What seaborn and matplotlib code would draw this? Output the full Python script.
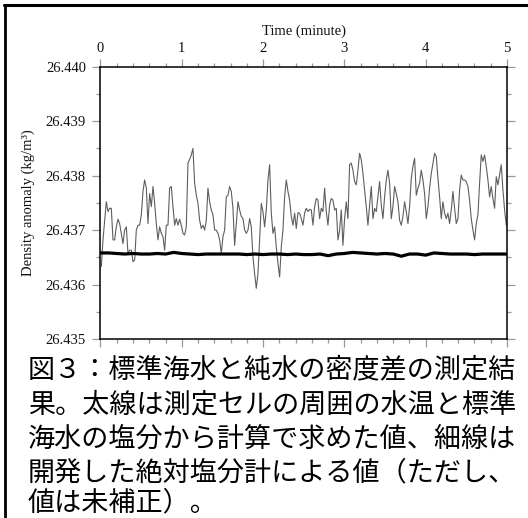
import numpy as np
import pandas as pd
import matplotlib
matplotlib.use("Agg")
import matplotlib.pyplot as plt
import seaborn as sns
from matplotlib.ticker import MultipleLocator, FormatStrFormatter
from matplotlib.lines import Line2D

# ---------------- data ----------------
# thin line: developed absolute salinometer (sampled every ~0.0205 min)
thin_values = [
    26.43633, 26.43682, 26.43718, 26.43752, 26.43734, 26.43740, 26.43740, 26.43682, 26.43682, 26.43706,
    26.43720, 26.43712, 26.43694, 26.43675, 26.43700, 26.43706, 26.43657, 26.43663, 26.43663, 26.43642,
    26.43645, 26.43700, 26.43709, 26.43709, 26.43728, 26.43771, 26.43792, 26.43777, 26.43712, 26.43767,
    26.43743, 26.43780, 26.43749, 26.43712, 26.43682, 26.43706, 26.43694, 26.43688, 26.43663, 26.43709,
    26.43709, 26.43777, 26.43780, 26.43743, 26.43709, 26.43721, 26.43709, 26.43720, 26.43709, 26.43694,
    26.43691, 26.43706, 26.43823, 26.43830, 26.43838, 26.43850, 26.43786, 26.43764, 26.43749, 26.43718,
    26.43703, 26.43709, 26.43700, 26.43718, 26.43777, 26.43752, 26.43737, 26.43728, 26.43700, 26.43700,
    26.43694, 26.43682, 26.43657, 26.43688, 26.43700, 26.43761, 26.43764, 26.43780, 26.43771, 26.43740,
    26.43672, 26.43712, 26.43752, 26.43737, 26.43725, 26.43721, 26.43700, 26.43694, 26.43700, 26.43721,
    26.43706, 26.43651, 26.43620, 26.43593, 26.43620, 26.43682, 26.43749, 26.43734, 26.43706, 26.43737,
    26.43792, 26.43820, 26.43731, 26.43694, 26.43706, 26.43669, 26.43639, 26.43614, 26.43669, 26.43700,
    26.43761, 26.43792, 26.43771, 26.43755, 26.43725, 26.43709, 26.43731, 26.43703, 26.43732, 26.43731,
    26.43721, 26.43709,
    26.43731, 26.43740, 26.43734, 26.43738, 26.43737, 26.43709, 26.43743, 26.43758, 26.43755, 26.43721,
    26.43740, 26.43734, 26.43777, 26.43734, 26.43709, 26.43746, 26.43758, 26.43755, 26.43737, 26.43740,
    26.43682, 26.43700, 26.43737, 26.43672, 26.43721, 26.43752, 26.43721, 26.43820, 26.43823, 26.43810,
    26.43789, 26.43783, 26.43810, 26.43841, 26.43829, 26.43804, 26.43774, 26.43743, 26.43709, 26.43746,
    26.43780, 26.43721, 26.43740, 26.43734, 26.43761, 26.43789, 26.43746, 26.43721, 26.43761, 26.43792,
    26.43810, 26.43786, 26.43721, 26.43743, 26.43780, 26.43767, 26.43752, 26.43718, 26.43709, 26.43725,
    26.43752, 26.43734, 26.43712, 26.43743, 26.43795, 26.43817, 26.43832, 26.43764, 26.43777, 26.43786,
    26.43810, 26.43792, 26.43767, 26.43721, 26.43743, 26.43777, 26.43804, 26.43823, 26.43841, 26.43835,
    26.43795, 26.43761, 26.43721, 26.43752, 26.43731, 26.43721, 26.43731, 26.43712, 26.43737, 26.43771,
    26.43740, 26.43712, 26.43721, 26.43774, 26.43801, 26.43792, 26.43792, 26.43789, 26.43780, 26.43755,
    26.43721, 26.43700, 26.43682, 26.43712, 26.43728, 26.43786, 26.43838, 26.43826, 26.43838, 26.43817,
    26.43792, 26.43761, 26.43780, 26.43758, 26.43740, 26.43798, 26.43783, 26.43801, 26.43820, 26.43774,
    26.43737, 26.43709,
]
thin_time = np.linspace(0.0103, 4.991, len(thin_values))

# thick line: computed from cell temperature and standard seawater salinity
thick_time = np.linspace(0.0, 5.0, 51)
thick_values = [
    26.43658, 26.43658, 26.43657, 26.43656, 26.43657, 26.43656, 26.43656, 26.43657, 26.43656, 26.43659,
    26.43657, 26.43656, 26.43655, 26.43656, 26.43656, 26.43656, 26.43656, 26.43656, 26.43655, 26.43656,
    26.43655, 26.43656, 26.43656, 26.43655, 26.43656, 26.43655, 26.43655, 26.43656, 26.43653, 26.43656,
    26.43657, 26.43659, 26.43658, 26.43657, 26.43656, 26.43657, 26.43656, 26.43652, 26.43656, 26.43656,
    26.43654, 26.43658, 26.43657, 26.43656, 26.43656, 26.43656, 26.43655, 26.43656, 26.43656, 26.43656,
    26.43656,
]

x_ticks = [0, 1, 2, 3, 4, 5]
y_ticks = [26.435, 26.436, 26.437, 26.438, 26.439, 26.440]

caption_lines = [
    "図３：標準海水と純水の密度差の測定結",
    "果。太線は測定セルの周囲の水温と標準",
    "海水の塩分から計算で求めた値、細線は",
    "開発した絶対塩分計による値（ただし、",
    "値は未補正）。",
]

thin_df = pd.DataFrame({"time": thin_time, "density": thin_values})
thick_df = pd.DataFrame({"time": thick_time, "density": thick_values})

# ---------------- figure ----------------
sns.set_style("ticks")
plt.rcParams["font.family"] = ["Liberation Serif", "DejaVu Serif"]

fig = plt.figure(figsize=(5.28, 5.18), dpi=100)
ax = fig.add_axes([0.1903, 0.3456, 0.7699, 0.5256])

sns.lineplot(data=thin_df, x="time", y="density", ax=ax, color="#5e5e5e",
             linewidth=0.8, estimator=None, sort=False)
sns.lineplot(data=thick_df, x="time", y="density", ax=ax, color="black",
             linewidth=2.3, estimator=None, sort=False)

ax.set_xlim(0, 5)
ax.set_ylim(26.435, 26.440)
ax.set_xticks(x_ticks)
ax.set_yticks(y_ticks)
ax.xaxis.set_minor_locator(MultipleLocator(0.2))
ax.yaxis.set_minor_locator(MultipleLocator(0.0005))
ax.yaxis.set_major_formatter(FormatStrFormatter("%.3f"))

ax.xaxis.set_ticks_position("both")
ax.yaxis.set_ticks_position("both")
ax.tick_params(axis="x", which="both", top=True, bottom=True,
               labeltop=True, labelbottom=False)
ax.tick_params(which="both", direction="out", color="#999999", width=0.9)
ax.tick_params(which="major", length=5.5, labelsize=10.5, pad=3, labelcolor="#111111")
ax.tick_params(which="minor", length=3)
ax.tick_params(axis="y", which="major", pad=5)

ax.xaxis.set_label_position("top")
ax.set_xlabel("Time (minute)", fontsize=10.5, labelpad=5, color="#111111")
ax.set_ylabel("Density anomaly (kg/m³)", fontsize=10.5, labelpad=8, color="#111111")

for s in ax.spines.values():
    s.set_visible(True)
    s.set_linewidth(1.1)
    s.set_color("black")

# outer frame (left and top)
fig.add_artist(Line2D([0.0095, 0.0095], [0.0, 0.9894], transform=fig.transFigure,
                      color="black", linewidth=2.0))
fig.add_artist(Line2D([0.0085, 1.0], [0.9894, 0.9894], transform=fig.transFigure,
                      color="black", linewidth=2.2))

# caption
cap_y_px = [370, 405, 439, 473, 503]
for line, ypx in zip(caption_lines, cap_y_px):
    fig.text(28 / 528, 1 - ypx / 518, line, fontsize=19.5, va="center", ha="left",
             family=["Noto Sans CJK JP", "DejaVu Sans"], color="black")

fig.savefig("out.png", dpi=100)
